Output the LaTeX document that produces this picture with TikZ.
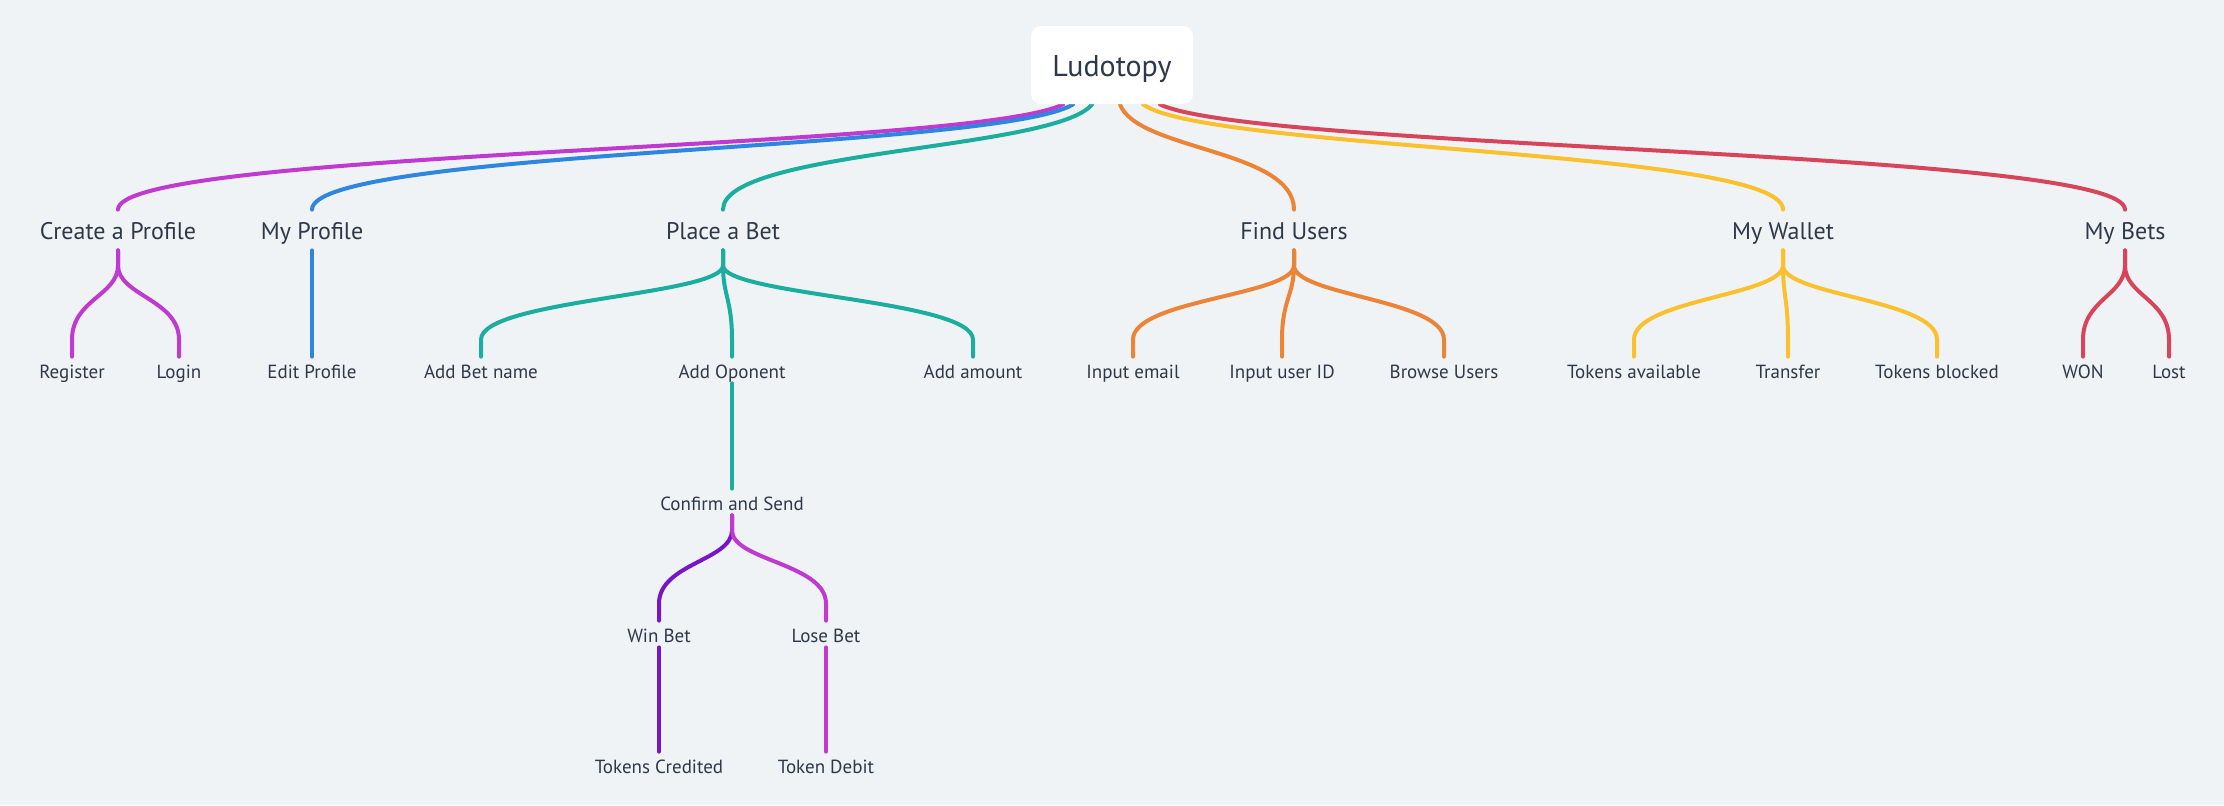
\documentclass[tikz,border=0pt]{standalone}
\usepackage{fontspec}
\setmainfont{PT Sans}
\usetikzlibrary{calc, positioning, backgrounds}
\definecolor{fondo}{RGB}{240,243,246}
\definecolor{tinta}{RGB}{45,56,72}
\definecolor{Cprof}{RGB}{192,57,208}
\definecolor{Cmine}{RGB}{46,134,222}
\definecolor{Cbet}{RGB}{27,174,158}
\definecolor{Cfind}{RGB}{236,132,56}
\definecolor{Cwallet}{RGB}{250,192,45}
\definecolor{Cbets}{RGB}{215,69,90}
\definecolor{Cwin}{RGB}{118,22,200}

\begin{document}
\begin{tikzpicture}[x=0.5pt, y=-0.5pt,
    central/.style={
        rectangle, rounded corners=5pt, fill=white,
        minimum width=81pt, minimum height=39pt,
        text height=13pt, text depth=2pt,
        font=\fontsize{15}{18}\selectfont, text=tinta},
    topic/.style={inner sep=0pt, minimum height=20pt,
        text height=11.5pt, text depth=2.5pt,
        font=\fontsize{12}{14}\selectfont, text=tinta},
    leaf/.style={inner sep=0pt, minimum height=13pt,
        text height=10pt, text depth=2pt,
        font=\fontsize{9.5}{11}\selectfont, text=tinta},
    link/.style={line width=2pt, line cap=round}]
  \useasboundingbox (0,0) rectangle (2224,805);
  % Nodo central
  \node[central] (root) at (1112,65) {Ludotopy};
  % Temas
  \node[topic] (prof)   at (118,230)  {Create a Profile};
  \node[topic] (mine)   at (312,230)  {My Profile};
  \node[topic] (bet)    at (723,230)  {Place a Bet};
  \node[topic] (find)   at (1294,230) {Find Users};
  \node[topic] (wallet) at (1783,230) {My Wallet};
  \node[topic] (bets)   at (2125,230) {My Bets};
  % Hojas
  \node[leaf] (reg)    at (72,370)   {Register};
  \node[leaf] (login)  at (179,370)  {Login};
  \node[leaf] (edit)   at (312,370)  {Edit Profile};
  \node[leaf] (bname)  at (481,370)  {Add Bet name};
  \node[leaf] (oppo)   at (732,370)  {Add Oponent};
  \node[leaf] (amount) at (973,370)  {Add amount};
  \node[leaf] (email)  at (1133,370) {Input email};
  \node[leaf] (userid) at (1282,370) {Input user ID};
  \node[leaf] (browse) at (1444,370) {Browse Users};
  \node[leaf] (avail)  at (1634,370) {Tokens available};
  \node[leaf] (trans)  at (1788,370) {Transfer};
  \node[leaf] (block)  at (1937,370) {Tokens blocked};
  \node[leaf] (won)    at (2083,370) {WON};
  \node[leaf] (lost)   at (2169,370) {Lost};
  % Confirmacion y resultado
  \node[leaf, on grid, below=66pt of oppo] (confirm) {Confirm and Send};
  \node[leaf] (winb)  at (659,634) {Win Bet};
  \node[leaf] (loseb) at (826,634) {Lose Bet};
  \node[leaf, on grid, below=65.5pt of winb]  (credit) {Tokens Credited};
  \node[leaf, on grid, below=65.5pt of loseb] (debit)  {Token Debit};
  % Fondo y ramas
  \begin{pgfonlayer}{background}
    \fill[fondo] (0,0) rectangle (2224,805);
    \draw[link, Cprof]   ($(root.south)+(-49,0)$) .. controls +(-94,46) and +(0,-60) .. (prof.north);
    \draw[link, Cmine]   ($(root.south)+(-39,0)$) .. controls +(-76,46) and +(0,-60) .. (mine.north);
    \draw[link, Cbet]    ($(root.south)+(-20,0)$) .. controls +(-37,46) and +(0,-60) .. (bet.north);
    \draw[link, Cfind]   ($(root.south)+(8,0)$)   .. controls +(17,46)  and +(0,-60) .. (find.north);
    \draw[link, Cwallet] ($(root.south)+(31,0)$)  .. controls +(64,46)  and +(0,-60) .. (wallet.north);
    \draw[link, Cbets]   ($(root.south)+(48,0)$)  .. controls +(96,46)  and +(0,-60) .. (bets.north);
    % Create a Profile
    \foreach \leaf in {reg, login}
      \draw[link, Cprof] (prof.south) -- ++(0,15) .. controls +(0,30) and +(0,-40) .. ($(\leaf.north)+(0,-17)$) -- (\leaf.north);
    % My Profile
    \draw[link, Cmine] (mine.south) -- (edit.north);
    % Place a Bet
    \foreach \leaf in {bname, oppo, amount}
      \draw[link, Cbet] (bet.south) -- ++(0,15) .. controls +(0,30) and +(0,-40) .. ($(\leaf.north)+(0,-17)$) -- (\leaf.north);
    \draw[link, Cbet] (oppo.south) -- (confirm.north);
    \draw[link, Cwin] (confirm.south) -- ++(0,15) .. controls +(0,30) and +(0,-40) .. ($(winb.north)+(0,-17)$) -- (winb.north);
    \draw[link, Cprof] (confirm.south) -- ++(0,15) .. controls +(0,30) and +(0,-40) .. ($(loseb.north)+(0,-17)$) -- (loseb.north);
    \draw[link, Cwin]  (winb.south) -- (credit.north);
    \draw[link, Cprof] (loseb.south) -- (debit.north);
    % Find Users
    \foreach \leaf in {email, userid, browse}
      \draw[link, Cfind] (find.south) -- ++(0,15) .. controls +(0,30) and +(0,-40) .. ($(\leaf.north)+(0,-17)$) -- (\leaf.north);
    % My Wallet
    \foreach \leaf in {avail, trans, block}
      \draw[link, Cwallet] (wallet.south) -- ++(0,15) .. controls +(0,30) and +(0,-40) .. ($(\leaf.north)+(0,-17)$) -- (\leaf.north);
    % My Bets
    \foreach \leaf in {won, lost}
      \draw[link, Cbets] (bets.south) -- ++(0,15) .. controls +(0,30) and +(0,-40) .. ($(\leaf.north)+(0,-17)$) -- (\leaf.north);
  \end{pgfonlayer}
\end{tikzpicture}
\end{document}
